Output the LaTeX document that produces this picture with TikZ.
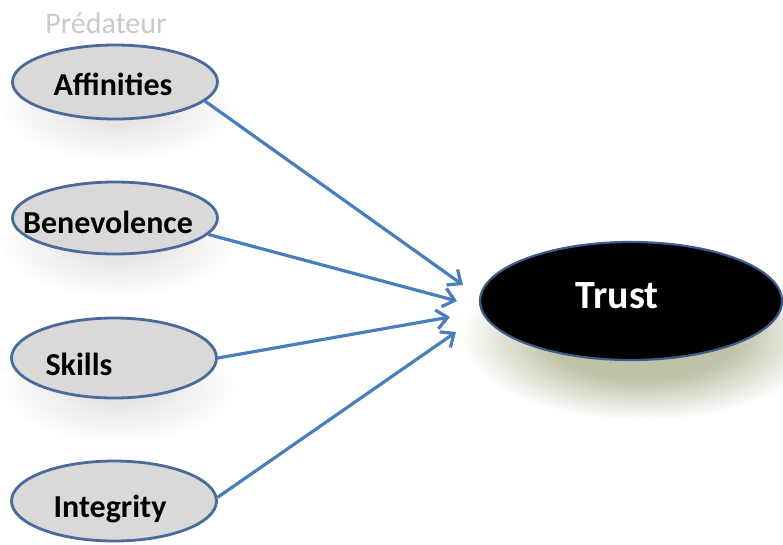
\documentclass[tikz,border=0pt]{standalone}
\usepackage{fontspec}
\setmainfont{Carlito}
\usetikzlibrary{arrows.meta,shapes.geometric,fadings}
\pgfdeclareradialshading{softedgesh}{\pgfpointorigin}{color(0bp)=(pgftransparent!0); color(13bp)=(pgftransparent!5); color(25bp)=(pgftransparent!100); color(50bp)=(pgftransparent!100)}
\pgfdeclarefading{softedge}{\pgfuseshading{softedgesh}}
\pgfdeclareradialshading{softedgebsh}{\pgfpointorigin}{color(0bp)=(pgftransparent!0); color(8bp)=(pgftransparent!10); color(25bp)=(pgftransparent!100); color(50bp)=(pgftransparent!100)}
\pgfdeclarefading{softedgeb}{\pgfuseshading{softedgebsh}}
\definecolor{ellfill}{HTML}{D9D9D9}
\definecolor{ellborder}{HTML}{4A6A9A}
\definecolor{arrowblue}{HTML}{4A7EBB}
\definecolor{trustborder}{HTML}{3E5C8A}
\definecolor{shadowgreen}{HTML}{BCC0A4}
\definecolor{shadowgray}{HTML}{E4E4E4}
\definecolor{predgray}{HTML}{CACACA}
\tikzset{
  factor/.style={ellipse, draw=ellborder, line width=2.8pt, fill=ellfill,
    minimum width=205pt, minimum height=74pt, inner sep=-40pt,
    font=\fontsize{32}{32}\selectfont\bfseries, text height=22pt, text depth=7pt},
  core/.style={ellipse, draw=trustborder, line width=2.2pt, fill=black,
    minimum width=302pt, minimum height=118pt, inner sep=-40pt, text=white,
    font=\fontsize{40}{40}\selectfont\bfseries, text height=28pt, text depth=9pt},
  link/.style={draw=arrowblue, line width=3.2pt, -{Straight Barb[length=11pt,width=19pt]}},
  softshadow/.style={fill=#1, path fading=softedgeb},
}
\begin{document}
\begin{tikzpicture}[x=1pt,y=-1pt]
\fill[white] (0,0) rectangle (783,544);
\useasboundingbox (0,0) rectangle (783,544);
% shadows
\fill[shadowgreen, path fading=softedge] (642,336) ellipse [x radius=180pt, y radius=84pt];
\fill[softshadow=shadowgray] (118,108) ellipse [x radius=118pt, y radius=52pt];
\fill[softshadow=shadowgray] (118,244) ellipse [x radius=118pt, y radius=52pt];
\fill[softshadow=shadowgray] (118,386) ellipse [x radius=118pt, y radius=56pt];
% title
\node[font=\fontsize{30}{30}\selectfont, text=predgray, anchor=base, inner sep=0pt] (pred) at (106,33) {Prédateur};
% factors
\node[factor] (aff) at (115,82) {\raisebox{-5.8pt}{Affinities}\hspace{4pt}\mbox{}};
\node[factor, minimum height=72pt] (ben) at (115,218) {\raisebox{-7.8pt}{Benevolence}\hspace{14pt}\mbox{}};
\node[factor, minimum height=80pt] (ski) at (114,358) {\raisebox{-9.8pt}{Skills}\hspace{70pt}\mbox{}};
\node[factor, minimum height=80pt] (int) at (114,501) {\raisebox{-8.8pt}{Integrity}\hspace{8pt}\mbox{}};
% target
\node[core] (trust) at (631,301) {\raisebox{2.5pt}{Trust}\hspace{28pt}\mbox{}};
% arrow ends
\coordinate (e1) at (463,285);
\coordinate (e2) at (457,301);
\coordinate (e3) at (450,317);
\coordinate (e4) at (456,332);
\draw[link] (aff.-12) -- (e1);
\draw[link] (ben.-10) -- (e2);
\draw[link] (ski.east) -- (e3);
\draw[link] (int.2) -- (e4);
\end{tikzpicture}
\end{document}
